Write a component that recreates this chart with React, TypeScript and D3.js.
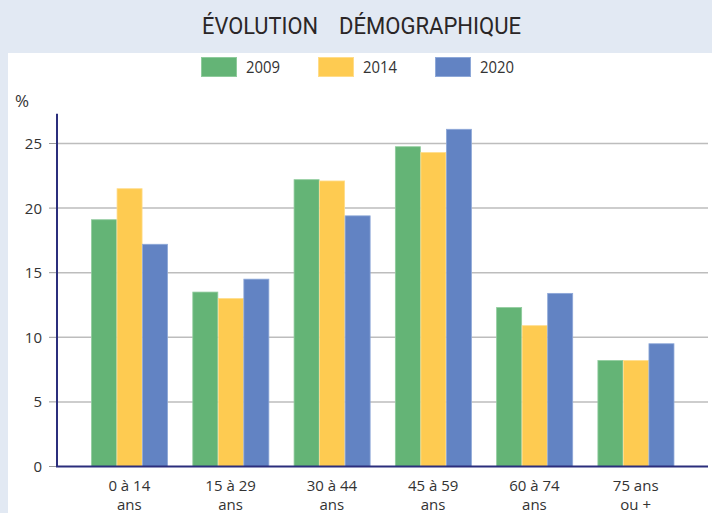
import * as d3 from "d3"

const categories = [
  ["0 à 14", "ans"],
  ["15 à 29", "ans"],
  ["30 à 44", "ans"],
  ["45 à 59", "ans"],
  ["60 à 74", "ans"],
  ["75 ans", "ou +"],
]
const years = ["2009", "2014", "2020"]
const v2009 = [19.1, 13.5, 22.2, 24.75, 12.3, 8.2]
const v2014 = [21.5, 13.0, 22.1, 24.3, 10.9, 8.2]
const v2020 = [17.2, 14.5, 19.4, 26.1, 13.4, 9.5]
const yTicks = [0, 5, 10, 15, 20, 25]

const seriesValues = [v2009, v2014, v2020]
const colors = ["#64b476", "#fecb51", "#6283c3"]
const borders = ["#8fcb9c", "#ffdc8a", "#8ea8d8"]

const W = 712
const H = 513
const font = "'Open Sans', sans-serif"

export default function App() {
  const x0 = d3
    .scaleBand<string>()
    .domain(categories.map((c) => c.join(" ")))
    .range([57, 708])
    .paddingInner(0.244)
    .paddingOuter(0.336)

  const x1 = d3.scaleBand<string>().domain(years).range([0, x0.bandwidth()])

  const y = d3.scaleLinear().domain([0, 25]).range([466.5, 143.5])
  const yTop = y(27.3)

  return (
    <div style={{ position: "fixed", left: 0, top: 0 }}>
      <svg width={W} height={H} style={{ display: "block" }}>
        <rect width={W} height={H} fill="#e2e9f3" />
        <rect x={8} y={53} width={W - 8} height={H - 53} fill="#ffffff" />

        {/* Title */}
        <text
          x={202}
          y={34}
          fontFamily="Roboto, sans-serif"
          fontSize={24}
          fill="#2a2627"
          textLength={116}
          lengthAdjust="spacingAndGlyphs"
        >
          ÉVOLUTION
        </text>
        <text
          x={339}
          y={34}
          fontFamily="Roboto, sans-serif"
          fontSize={24}
          fill="#2a2627"
          textLength={182}
          lengthAdjust="spacingAndGlyphs"
        >
          DÉMOGRAPHIQUE
        </text>

        {/* Legend */}
        {years.map((yr, i) => {
          const lx = [201, 318, 435][i]
          return (
            <g key={yr} transform={`translate(${lx},57)`}>
              <rect x={0.5} y={0.5} width={35} height={19} fill={colors[i]} stroke={borders[i]} />
              <text x={45} y={16} fontFamily={font} fontSize={15.5} fill="#333" textLength={34} lengthAdjust="spacingAndGlyphs">
                {yr}
              </text>
            </g>
          )
        })}

        {/* % label */}
        <text x={15} y={107} fontFamily={font} fontSize={17} fill="#333">
          %
        </text>

        {/* Grid + ticks */}
        {yTicks.map((t) => (
          <g key={t}>
            {t > 0 && <line x1={57} x2={708} y1={y(t)} y2={y(t)} stroke="#bdbdbd" strokeWidth={1.5} />}
            <line x1={49} x2={57} y1={y(t)} y2={y(t)} stroke="#9a9a9a" strokeWidth={1} />
            <text x={42} y={y(t)} dy="0.36em" textAnchor="end" fontFamily={font} fontSize={15} fill="#333">
              {t}
            </text>
          </g>
        ))}

        {/* Bars */}
        {categories.map((c, ci) => (
          <g key={c.join(" ")} transform={`translate(${x0(c.join(" "))},0)`}>
            {years.map((yr, si) => {
              const v = seriesValues[si][ci]
              return (
                <rect
                  key={yr}
                  x={(x1(yr) ?? 0) + 0.5}
                  y={y(v)}
                  width={x1.bandwidth() - 0.5}
                  height={y(0) - y(v)}
                  fill={colors[si]}
                  stroke={borders[si]}
                  strokeWidth={0.8}
                />
              )
            })}
          </g>
        ))}

        {/* Axes */}
        <line x1={57} x2={57} y1={yTop} y2={y(0)} stroke="#2b2e7c" strokeWidth={2} />
        <line x1={56} x2={708} y1={y(0)} y2={y(0)} stroke="#2b2e7c" strokeWidth={2} />

        {/* X labels */}
        {categories.map((c) => {
          const cx = (x0(c.join(" ")) ?? 0) + x0.bandwidth() / 2
          return (
            <text key={c.join(" ")} textAnchor="middle" fontFamily={font} fontSize={15} fill="#333">
              <tspan x={cx} y={491}>
                {c[0]}
              </tspan>
              <tspan x={cx} y={510}>
                {c[1]}
              </tspan>
            </text>
          )
        })}
      </svg>
    </div>
  )
}
